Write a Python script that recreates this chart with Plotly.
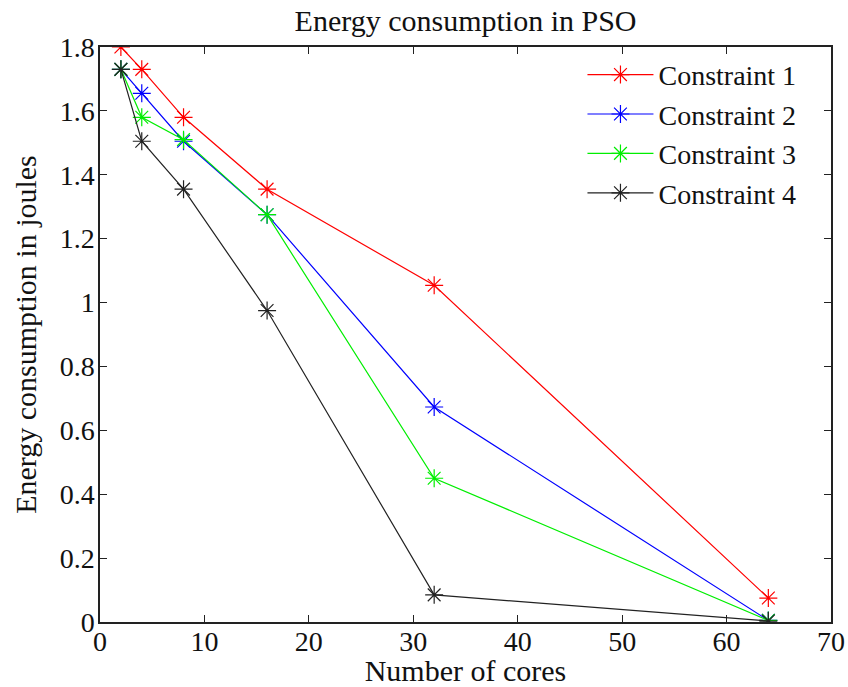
import plotly.graph_objects as go

cores = [2, 4, 8, 16, 32, 64]
constraint1 = [1.80, 1.73, 1.58, 1.355, 1.054, 0.075]
constraint2 = [1.73, 1.655, 1.505, 1.275, 0.673, 0.005]
constraint3 = [1.73, 1.58, 1.51, 1.275, 0.45, 0.005]
constraint4 = [1.73, 1.505, 1.355, 0.975, 0.085, 0.003]
series_names = ["Constraint 1", "Constraint 2", "Constraint 3", "Constraint 4"]
series_values = [constraint1, constraint2, constraint3, constraint4]
colors = ["#ff0000", "#0000ff", "#00ee00", "#222222"]
x_ticks = [0, 10, 20, 30, 40, 50, 60, 70]
y_ticks = [0, 0.2, 0.4, 0.6, 0.8, 1.0, 1.2, 1.4, 1.6, 1.8]
y_ticktext = ["0", "0.2", "0.4", "0.6", "0.8", "1", "1.2", "1.4", "1.6", "1.8"]

font_family = "Liberation Serif"

fig = go.Figure()
for name, vals, col in zip(series_names, series_values, colors):
    fig.add_trace(go.Scatter(
        x=cores, y=vals, name=name, mode="lines+markers",
        line=dict(color=col, width=1.2),
        marker=dict(symbol="asterisk-open", size=15, color=col,
                    line=dict(color=col, width=1.2)),
    ))

axis_common = dict(
    showgrid=False, zeroline=False, showline=True, linecolor="#222222",
    linewidth=1.5, mirror="ticks", ticks="inside", ticklen=7,
    tickcolor="#222222", tickwidth=1.2, automargin=False,
    tickfont=dict(family=font_family, size=28, color="#111111"),
)

fig.update_layout(
    width=848, height=687,
    margin=dict(l=100, r=17, t=47, b=65),
    font=dict(family=font_family, size=28, color="#111111"),
    paper_bgcolor="white", plot_bgcolor="white",
    title=dict(text="Energy consumption in PSO", x=0.549, xanchor="center",
               y=0.985, yanchor="top",
               font=dict(family=font_family, size=30, color="#111111")),
    xaxis=dict(range=[0, 70], tickvals=x_ticks, ticklabelstandoff=-6,
               title=dict(text="Number of cores", standoff=6,
                          font=dict(family=font_family, size=30, color="#111111")),
               **axis_common),
    yaxis=dict(range=[0, 1.8], tickvals=y_ticks, ticktext=y_ticktext,
               ticklabelstandoff=-2,
               title=dict(text="Energy consumption in joules", standoff=14,
                          font=dict(family=font_family, size=30, color="#111111")),
               **axis_common),
    legend=dict(x=0.66, y=0.995, xanchor="left", yanchor="top",
                bgcolor="rgba(0,0,0,0)", borderwidth=0,
                itemwidth=66, tracegroupgap=0,
                font=dict(family=font_family, size=28, color="#111111")),
    showlegend=True,
)

fig.write_html(
    "out.html",
    config={"displayModeBar": False},
    post_script="document.body.style.margin='0';document.body.style.overflow='hidden';",
)
